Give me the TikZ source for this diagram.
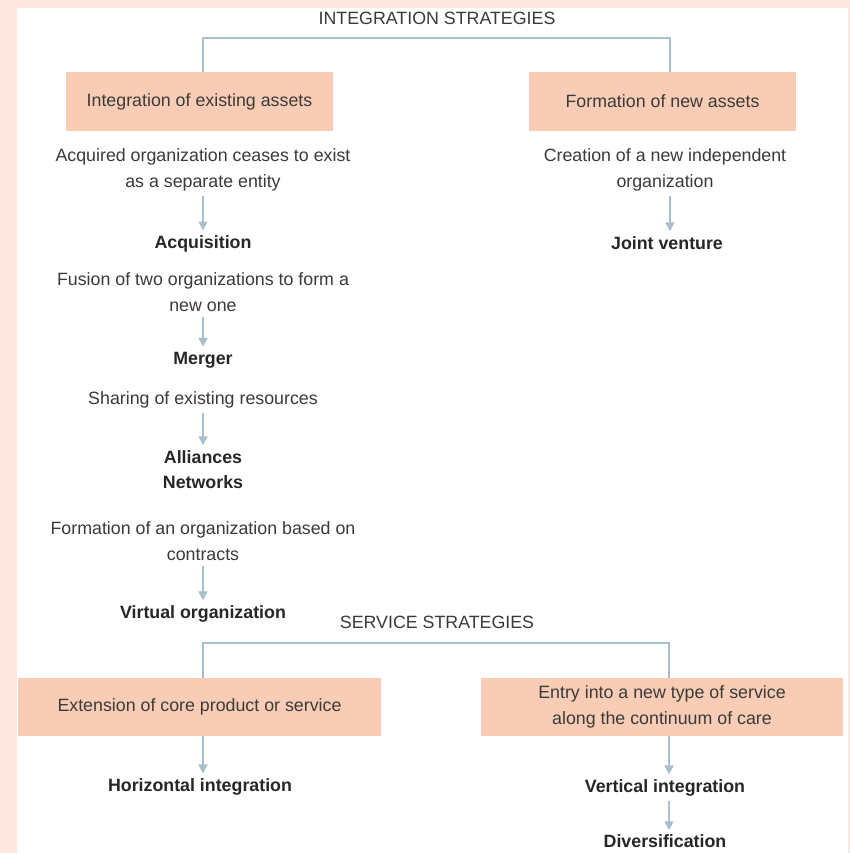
\documentclass[tikz,border=0pt]{standalone}
\usepackage{fontspec}
\setmainfont{Liberation Sans}
\usetikzlibrary{arrows.meta}
\definecolor{framepink}{HTML}{FCE8DF}
\definecolor{boxfill}{HTML}{F9CDB5}
\definecolor{linecol}{HTML}{A8BFCD}
\definecolor{txt}{HTML}{3A3A3A}
\definecolor{btxt}{HTML}{262626}
\tikzset{
  desc/.style={font=\fontsize{17.8}{26}\selectfont, text=txt, align=center, inner sep=3pt},
  result/.style={font=\fontsize{17.8}{25}\selectfont\bfseries, text=btxt, align=center, inner sep=3pt},
  heading/.style={font=\fontsize{17.8}{26}\selectfont, text=txt, inner sep=2pt},
  boxnode/.style={fill=boxfill, draw=none, font=\fontsize{17.8}{26}\selectfont, text=txt, align=center, inner sep=0pt},
  conn/.style={draw=linecol, line width=1.6pt},
  arr/.style={draw=linecol, line width=1.6pt, -{Triangle[length=9pt,width=9pt]}, shorten >=2pt, shorten <=2pt},
}
\begin{document}
\begin{tikzpicture}[x=1pt,y=-1pt]
\useasboundingbox (0,0) rectangle (850,853);
\fill[framepink] (0,0) rectangle (850,853);
\fill[white] (17,8) rectangle (848,853);

% ---------- Integration strategies ----------
\node[heading] (t1) at (437,18) {INTEGRATION STRATEGIES};
\coordinate (t1l) at (203,38);
\coordinate (t1r) at (670,38);

\node[boxnode, minimum width=267pt, minimum height=59pt] (b1) at (199.5,101.5) {Integration of existing assets};
\node[boxnode, minimum width=267pt, minimum height=59pt] (b2) at (662.5,101.5) {Formation of new assets};

\draw[conn] (b1.north -| t1l) -- (t1l) -- (t1r) -- (b2.north -| t1r);

% left column
\node[desc] (a1) at (203,170) {Acquired organization ceases to exist\\as a separate entity};
\node[result] (acq) at (203,244) {Acquisition};
\node[desc] (a2) at (203,292) {Fusion of two organizations to form a\\new one};
\node[result] (mer) at (203,360) {Merger};
\node[desc] (a3) at (203,400) {Sharing of existing resources};
\node[result] (all) at (203,469.5) {Alliances\\Networks};
\node[desc] (a4) at (203,541.5) {Formation of an organization based on\\contracts};
\node[result] (vir) at (203,614) {Virtual organization};

\draw[arr] (a1.south) -- (acq.north);
\draw[arr] (a2.south) -- (mer.north);
\draw[arr] (a3.south) -- (all.north);
\draw[arr] (a4.south) -- (vir.north);

% right column
\node[desc] (c1) at (665,170) {Creation of a new independent\\organization};
\node[result] (jv) at (667,243) {Joint venture};
\draw[arr] (c1.south -| t1r) -- (jv.north -| t1r);

% ---------- Service strategies ----------
\node[heading] (t2) at (437,622) {SERVICE STRATEGIES};
\coordinate (t2l) at (203,643);
\coordinate (t2r) at (669,643);

\node[boxnode, minimum width=363pt, minimum height=58pt] (s1) at (199.5,707) {Extension of core product or service};
\node[boxnode, minimum width=362pt, minimum height=58pt] (s2) at (662,707) {Entry into a new type of service\\along the continuum of care};

\draw[conn] (s1.north -| t2l) -- (t2l) -- (t2r) -- (s2.north -| t2r);

\node[result] (hor) at (200,787) {Horizontal integration};
\node[result] (ver) at (665,788) {Vertical integration};
\node[result] (div) at (665,841) {Diversification};

\draw[arr, shorten <=0pt] (s1.south -| t2l) -- (hor.north -| t2l);
\draw[arr, shorten <=0pt] (s2.south -| t2r) -- (ver.north -| t2r);
\draw[arr, shorten >=1pt, shorten <=1pt] (ver.south -| t2r) -- (div.north -| t2r);
\end{tikzpicture}
\end{document}
